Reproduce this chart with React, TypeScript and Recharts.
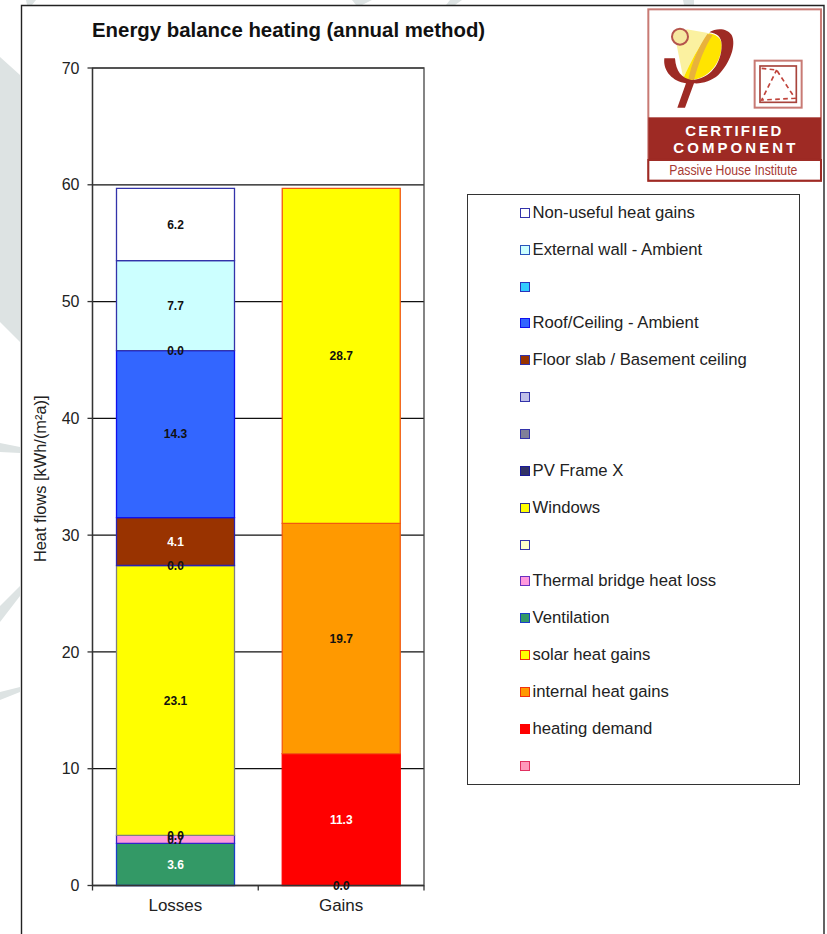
import React from 'react';
import {
    BarChart, Bar, XAxis, YAxis, CartesianGrid, Legend, LabelList, ReferenceArea, Label,
} from 'recharts';

const categories = ['Losses', 'Gains'];
const yTicks = [0, 10, 20, 30, 40, 50, 60, 70];
const columnEdges = [0, 0.5, 1];

// one value per category, null where the series has no bar in that column
const pinkBlank = [null, 0.0];
const heatingDemand = [null, 11.3];
const internalGains = [null, 19.7];
const solarGains = [null, 28.7];
const ventilation = [3.6, null];
const thermalBridge = [0.7, null];
const paleBlank = [0.0, null];
const windows = [23.1, null];
const pvFrame = [0.0, null];
const greyBlank = [null, null];
const lilacBlank = [null, null];
const floorSlab = [4.1, null];
const roofCeiling = [14.3, null];
const cyanBlank = [0.0, null];
const externalWall = [7.7, null];
const nonUseful = [6.2, null];

const series = [
    {key: 'pink', name: '', values: pinkBlank, fill: '#ff99bb', stroke: '#ff3366', swatch: '#e03060', text: '#111'},
    {key: 'heating', name: 'heating demand', values: heatingDemand, fill: '#ff0000', stroke: '#ff0000', swatch: '#ff0000', text: '#fff'},
    {key: 'internal', name: 'internal heat gains', values: internalGains, fill: '#ff9900', stroke: '#f25a10', swatch: '#f03010', text: '#111'},
    {key: 'solar', name: 'solar heat gains', values: solarGains, fill: '#ffff00', stroke: '#f25a10', swatch: '#f03010', text: '#111'},
    {key: 'ventilation', name: 'Ventilation', values: ventilation, fill: '#339966', stroke: '#1a3fc8', swatch: '#1a3fc8', text: '#fff'},
    {key: 'bridge', name: 'Thermal bridge heat loss', values: thermalBridge, fill: '#ff99dd', stroke: '#3322cc', swatch: '#6a30c0', text: '#111'},
    {key: 'pale', name: '', values: paleBlank, fill: '#ffffcc', stroke: '#3333aa', swatch: '#3333aa', text: '#111'},
    {key: 'windows', name: 'Windows', values: windows, fill: '#ffff00', stroke: '#808080', swatch: '#333388', text: '#111'},
    {key: 'pv', name: 'PV Frame X', values: pvFrame, fill: '#333366', stroke: '#1a1a99', swatch: '#1a1a99', text: '#111'},
    {key: 'grey', name: '', values: greyBlank, fill: '#808099', stroke: '#3333aa', swatch: '#3333aa', text: '#111'},
    {key: 'lilac', name: '', values: lilacBlank, fill: '#c0c0e8', stroke: '#3333aa', swatch: '#3333aa', text: '#111'},
    {key: 'floor', name: 'Floor slab / Basement ceiling', values: floorSlab, fill: '#993300', stroke: '#2a22b0', swatch: '#3333aa', text: '#fff'},
    {key: 'roof', name: 'Roof/Ceiling - Ambient', values: roofCeiling, fill: '#3366ff', stroke: '#1010ee', swatch: '#1010ee', text: '#111'},
    {key: 'cyan', name: '', values: cyanBlank, fill: '#33ccff', stroke: '#2a33bb', swatch: '#2a33bb', text: '#111'},
    {key: 'wall', name: 'External wall - Ambient', values: externalWall, fill: '#ccffff', stroke: '#3333aa', swatch: '#2a55bb', text: '#111'},
    {key: 'nonUseful', name: 'Non-useful heat gains', values: nonUseful, fill: '#ffffff', stroke: '#3333aa', swatch: '#3333aa', text: '#111'},
];

const data = categories.map((name, i) => {
    const row: any = {name};
    series.forEach((s) => {
        row[s.key] = s.values[i] === null ? undefined : s.values[i];
    });
    return row;
});

const FONT = '"Liberation Sans", Arial, sans-serif';
const INK = '#222';

function LegendList({payload}: any) {
    // top of the stack comes first in the list
    const rows = [...(payload || [])].reverse();
    return (
        <div style={{
            boxSizing: 'border-box', width: 333, height: 591, border: '1.3px solid #333', background: '#fff',
            paddingLeft: 52, fontFamily: FONT, fontSize: 16.7, color: INK,
        }}>
            {rows.map((entry: any) => {
                const s = series.find((item) => item.key === entry.dataKey)!;
                return (
                    <div key={s.key} style={{height: 36.85, display: 'flex', alignItems: 'center'}}>
                        <span style={{
                            boxSizing: 'border-box', width: 10, height: 10, marginRight: 3, flex: 'none',
                            background: s.fill, border: `1.3px solid ${s.swatch}`,
                        }}/>
                        <span>{s.name}</span>
                    </div>
                );
            })}
        </div>
    );
}

// value labels: zero-height segments still get one, empty series do not
function valueLabel(color: string) {
    return (props: any) => {
        const {value, viewBox} = props;
        if (value === undefined || value === null || !viewBox) return null;
        return (
            <text x={viewBox.x + viewBox.width / 2} y={viewBox.y + viewBox.height / 2} dy="0.36em"
                  textAnchor="middle" fill={color} fontSize={12} fontWeight="bold" fontFamily={FONT}>
                {Number(value).toFixed(1)}
            </text>
        );
    };
}

// pale shapes behind the white sheet, and the sheet with its frame
function Backdrop() {
    const shade = '#dde3e3';
    return (
        <svg width={827} height={934} style={{position: 'absolute', left: 0, top: 0}}>
            <path d="M0,57 L20,75 L20,342 L0,322 Z" fill={shade}/>
            <path d="M0,443 L20,447 L20,453 L0,452 Z" fill={shade}/>
            <path d="M0,606 L20,586 L20,596 L0,622 Z" fill={shade}/>
            <path d="M0,692 L20,687 L20,692 L0,700 Z" fill={shade}/>
            <path d="M26,0 L36,0 L32,5 L27,5 Z" fill={shade}/>
            <path d="M352,0 L372,0 L362,5 L356,5 Z" fill={shade}/>
            <path d="M450,0 L462,0 L455,5 L446,5 Z" fill={shade}/>
            <path d="M683,0 L694,0 L694,5 L684,5 Z" fill={shade}/>
            <rect x={21.5} y={5.5} width={803} height={940} fill="#fff"/>
            <path d="M21.5,934 L21.5,5.5 L824,5.5 L824,934" fill="none" stroke="#222" strokeWidth={1.4}/>
        </svg>
    );
}

function Badge() {
    const red = '#9e2a24';
    return (
        <g transform="translate(620,0) scale(0.3333)">
            <rect x={85} y={28} width={518} height={515} fill="#fff" stroke="#c87a74" strokeWidth={6}/>
            <path d="M200,88 L268,100 C235,140 210,190 190,235 L170,135 Z" fill="#fbf1a0"/>
            <path d="M268,100 C295,105 307,120 305,140 C302,190 265,235 215,240 C200,240 195,238 190,235 C210,190 235,140 268,100 Z" fill="#ffe400"/>
            <path d="M262,102 C235,140 215,190 205,238 L222,240 C235,190 255,140 278,105 Z" fill="#e8b23c"/>
            <path d="M133,175 L165,175 C168,215 185,235 215,240 C270,238 305,190 305,135 C305,110 290,100 268,97 C290,82 322,85 335,105 C350,135 330,190 295,225 C275,243 245,252 222,250 L195,323 L172,323 L198,250 C160,245 128,215 133,175 Z" fill={red}/>
            <circle cx={180} cy={110} r={24} fill="#f6e8a0" stroke="#b5544c" strokeWidth={6}/>
            <rect x={404} y={182} width={141} height={141} fill="none" stroke="#c87a74" strokeWidth={6}/>
            <rect x={420} y={198} width={109} height={109} fill="none" stroke="#a8443c" strokeWidth={5}/>
            <path d="M425,205 L470,210 L525,295 L425,300 L470,210" fill="none" stroke="#c0443c" strokeWidth={5} strokeDasharray="14 10"/>
            <rect x={85} y={352} width={518} height={128} fill={red}/>
            <rect x={85} y={480} width={518} height={62} fill="#fff" stroke={red} strokeWidth={6}/>
            <g fontFamily={FONT} fontWeight="bold" textAnchor="middle" fill="#fff" fontSize={45}>
                <text x={340} y={408} textLength={288} lengthAdjust="spacing">CERTIFIED</text>
                <text x={343} y={458} textLength={366} lengthAdjust="spacing">COMPONENT</text>
            </g>
            <text transform="translate(340,524) scale(0.8,1)" fontFamily={FONT} fontSize={46}
                  textAnchor="middle" fill="#a83a34">Passive House Institute</text>
        </g>
    );
}

export default function App() {
    return (
        <div style={{position: 'absolute', left: 0, top: 0, width: 827, height: 934, overflow: 'hidden'}}>
            <Backdrop/>
            <div style={{position: 'absolute', left: 0, top: 0}}>
                <BarChart width={827} height={934} data={data} barSize={118}
                          margin={{top: 68, right: 403, bottom: 0, left: 32.5}}>
                    <CartesianGrid vertical={false} xAxisId="columns" stroke="#111" strokeWidth={1.2}/>
                    {/* tick marks sit between the columns, so they get their own number axis */}
                    <XAxis type="number" domain={[0, 1]} ticks={columnEdges} height={1} interval={0}
                           tickFormatter={() => ''} tickSize={5} stroke="#333" strokeWidth={1.3}/>
                    <XAxis xAxisId="columns" dataKey="name" height={47.5} tickLine={false} axisLine={false} interval={0}
                           tick={{fill: INK, fontSize: 17, fontFamily: FONT, dy: 4}}/>
                    <YAxis width={60} domain={[0, 70]} ticks={yTicks} interval={0} tickSize={5}
                           stroke="#333" strokeWidth={1.3}
                           tick={{fill: INK, fontSize: 16, fontFamily: FONT, dx: -6}}>
                        <Label value="Heat flows [kWh/(m²a)]" angle={-90} position="insideLeft" textAnchor="middle"
                               offset={0} dx={8} dy={2} fill={INK} fontSize={16.4} fontFamily={FONT}/>
                    </YAxis>
                    <ReferenceArea xAxisId="columns" y1={0} y2={70} fill="none" stroke="#444" strokeWidth={1.3}/>
                    {series.map((s) => (
                        <Bar key={s.key} xAxisId="columns" dataKey={s.key} name={s.name || s.key} stackId="flows"
                             fill={s.fill} stroke={s.stroke} strokeWidth={1.3} isAnimationActive={false}/>
                    ))}
                    <Legend layout="vertical" align="center" verticalAlign="middle" itemSorter={null}
                            content={<LegendList/>}
                            wrapperStyle={{left: 466.5, top: 193.5, width: 333, height: 591}}/>
                </BarChart>
            </div>
            {/* second pass over the same stack so no segment paints over a value label */}
            <div style={{position: 'absolute', left: 0, top: 0, pointerEvents: 'none'}}>
                <BarChart width={827} height={934} data={data} barSize={118}
                          margin={{top: 68, right: 403, bottom: 48.5, left: 92.5}}>
                    <XAxis dataKey="name" hide/>
                    <YAxis domain={[0, 70]} hide/>
                    {series.map((s) => (
                        <Bar key={s.key} dataKey={s.key} stackId="flows" fill="none" stroke="none"
                             minPointSize={0.01} isAnimationActive={false}>
                            <LabelList dataKey={s.key} content={valueLabel(s.text)}/>
                        </Bar>
                    ))}
                </BarChart>
            </div>
            <svg width={827} height={934} style={{position: 'absolute', left: 0, top: 0, pointerEvents: 'none'}}>
                <text x={92} y={36.5} fontFamily={FONT} fontWeight="bold" fontSize={20.4} fill="#111">
                    Energy balance heating (annual method)
                </text>
                <Badge/>
            </svg>
        </div>
    );
}
